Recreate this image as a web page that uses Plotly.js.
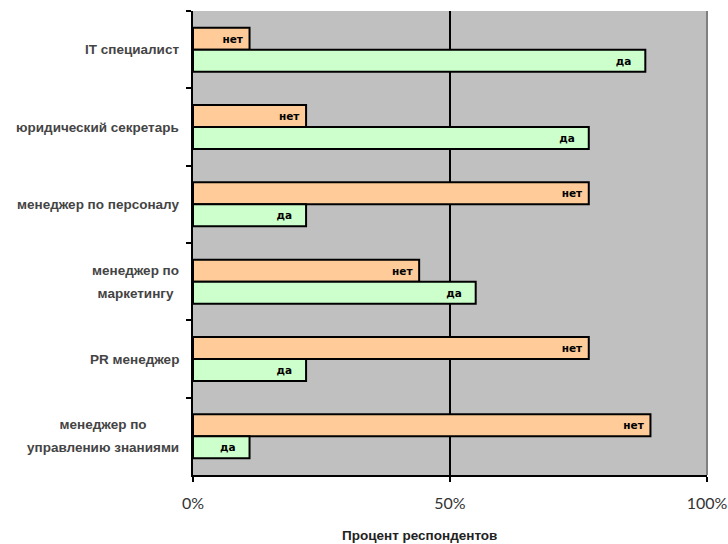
<!DOCTYPE html>
<html>
<head>
<meta charset="utf-8">
<script src="https://cdn.plot.ly/plotly-3.0.1.min.js"></script>
<style>
  html, body { margin: 0; padding: 0; background: #ffffff; }
  #chart { width: 728px; height: 544px; }
</style>
</head>
<body>
<div id="chart"></div>
<script>
// Professions surveyed, top to bottom
const categories = [
  'IT специалист',
  'юридический секретарь',
  'менеджер по персоналу',
  'менеджер по<br>маркетингу',
  'PR менеджер',
  'менеджер по<br>управлению знаниями'
];

// Share of respondents per answer
const seriesNames = ['нет', 'да'];
const valuesNo  = [0.11, 0.22, 0.77, 0.44, 0.77, 0.89];
const valuesYes = [0.88, 0.77, 0.22, 0.55, 0.22, 0.11];

const xTickVals = [0, 0.5, 1];
const xTickText = ['0%', '50%', '100%'];
const xTitle = 'Процент респондентов';

const colors = ['#FFCC99', '#CCFFCC'];
const labelFont = 'Liberation Sans, Arial, sans-serif';

// trailing padding inside the bar end, per series
const labelPad = ['\u00a0', '\u00a0\u00a0\u00a0'];

function barTrace(i, values) {
  return {
    type: 'bar',
    orientation: 'h',
    name: seriesNames[i],
    x: values,
    y: categories,
    marker: { color: colors[i], line: { color: '#000000', width: 2 } },
    text: values.map(() => seriesNames[i] + labelPad[i]),
    textposition: 'inside',
    insidetextanchor: 'end',
    textangle: 0,
    constraintext: 'none',
    textfont: { family: 'DejaVu Sans, sans-serif', size: 10.5, color: '#000000', weight: 'bold' },
    hoverinfo: 'skip'
  };
}

const data = [barTrace(0, valuesNo), barTrace(1, valuesYes)];

// Category labels, centred line by line to the left of the axis
const annotations = categories.map(c => ({
  xref: 'paper', yref: 'y',
  x: 0, y: c,
  xanchor: 'right', yanchor: 'middle',
  xshift: -12,
  align: 'center',
  showarrow: false,
  text: c.split('<br>').map(s => '<span style="font-size:13.5px">' + s + '</span>').join('<br>'),
  font: { family: labelFont, size: 17.5, color: '#444444', weight: 'bold' }
}));

// Axis title, set slightly left of the plot centre
annotations.push({
  xref: 'paper', yref: 'paper',
  x: 0.44, y: 0,
  xanchor: 'center', yanchor: 'middle',
  yshift: -60,
  showarrow: false,
  text: xTitle,
  font: { family: labelFont, size: 13.5, color: '#222222', weight: 'bold' }
});

const layout = {
  width: 728,
  height: 544,
  margin: { l: 193, r: 21, t: 11, b: 69 },
  paper_bgcolor: '#ffffff',
  plot_bgcolor: '#C0C0C0',
  showlegend: false,
  barmode: 'group',
  bargap: 0.43,
  bargroupgap: 0,
  xaxis: {
    range: [0, 1],
    tickvals: xTickVals,
    ticktext: xTickText,
    showgrid: true,
    gridcolor: '#000000',
    gridwidth: 1.5,
    zeroline: false,
    showline: true,
    linecolor: '#000000',
    linewidth: 2,
    ticks: 'outside',
    ticklen: 5,
    tickwidth: 2,
    tickcolor: '#000000',
    ticklabelstandoff: 8,
    tickfont: { family: 'Lato, Open Sans, sans-serif', size: 16, color: '#333333', weight: 400 },
    fixedrange: true
  },
  yaxis: {
    type: 'category',
    range: [5.5, -0.5],
    showticklabels: false,
    tickson: 'boundaries',
    ticks: 'outside',
    ticklen: 5,
    tickwidth: 2,
    tickcolor: '#000000',
    showgrid: false,
    zeroline: false,
    showline: true,
    linecolor: '#000000',
    linewidth: 2,
    fixedrange: true
  },
  annotations: annotations,
  shapes: [
    // grey frame edge on the right of the plot area
    {
      type: 'line', xref: 'paper', yref: 'paper',
      x0: 1, x1: 1, y0: 0, y1: 1,
      line: { color: '#808080', width: 2 },
      layer: 'above'
    }
  ]
};

Plotly.newPlot('chart', data, layout, { displayModeBar: false, staticPlot: true });
</script>
</body>
</html>
